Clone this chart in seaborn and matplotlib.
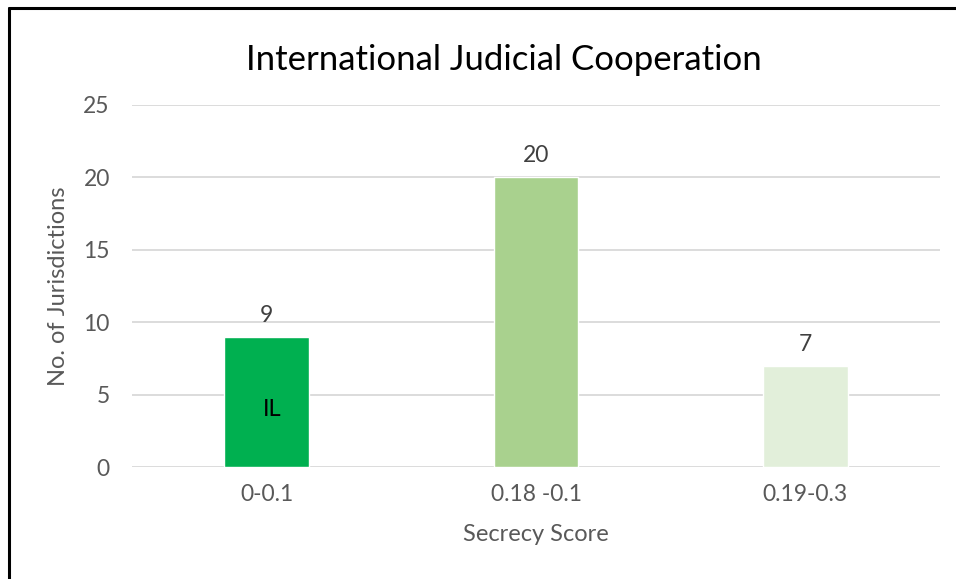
import matplotlib
matplotlib.use("Agg")
import matplotlib.pyplot as plt
import seaborn as sns
import pandas as pd
from matplotlib.lines import Line2D

categories = ["0-0.1", "0.18 -0.1", "0.19-0.3"]
values = [9, 20, 7]
bar_colors = ["#00B050", "#A9D18E", "#E2EFDA"]
title = "International Judicial Cooperation"
x_label = "Secrecy Score"
y_label = "No. of Jurisdictions"
y_ticks = [0, 5, 10, 15, 20, 25]
inner_label = "IL"

df = pd.DataFrame({"cat": categories, "val": values})

sns.set_theme(style="white")
plt.rcParams["font.family"] = ["Lato", "DejaVu Sans"]

fig = plt.figure(figsize=(9.56, 5.79), dpi=100)
ax = fig.add_axes([0.1381, 0.1934, 0.8452, 0.6253])

sns.barplot(data=df, x="cat", y="val", hue="cat", palette=bar_colors,
            width=0.315, legend=False, ax=ax, saturation=1, zorder=3)

ax.set_xlim(-0.5, 2.5)
ax.set_ylim(0, 25)
ax.set_yticks(y_ticks)
ax.yaxis.grid(True, color="#D9D9D9", linewidth=1.3, zorder=0)
ax.set_axisbelow(True)
for s in ax.spines.values():
    s.set_visible(False)

ax.tick_params(axis="both", length=0, labelsize=16.5, labelcolor="#595959")
ax.tick_params(axis="y", pad=16)
ax.tick_params(axis="x", pad=12)
ax.set_xlabel(x_label, fontsize=17, color="#595959", labelpad=14)
ax.set_ylabel(y_label, fontsize=17, color="#595959", labelpad=10)

for cont in ax.containers:
    ax.bar_label(cont, fmt="%d", padding=8, fontsize=16.5, color="#404040")

ax.text(0.02, values[0] * 0.44, inner_label, ha="center", va="center",
        fontsize=17, color="black")

fig.text(0.527, 0.896, title, ha="center", va="center", fontsize=25, color="black")

# frame lines (left and top)
fig.add_artist(Line2D([0.0094, 0.0094], [0, 0.986], color="black", linewidth=2.2,
                      transform=fig.transFigure))
fig.add_artist(Line2D([0.0094, 1.0], [0.986, 0.986], color="black", linewidth=2.2,
                      transform=fig.transFigure))

fig.savefig("out.png", dpi=100, facecolor="white")
